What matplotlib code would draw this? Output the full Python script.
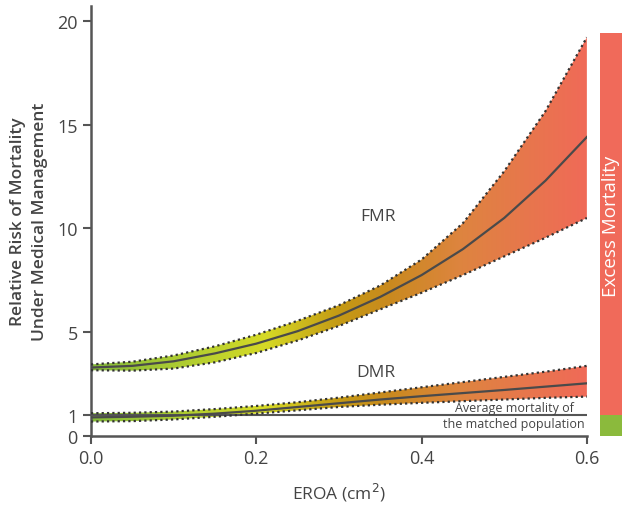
import numpy as np
import matplotlib
matplotlib.use("Agg")
import matplotlib.pyplot as plt
from matplotlib.colors import LinearSegmentedColormap

plt.rcParams['font.family'] = ['Open Sans', 'DejaVu Sans']

# ---- data ----
eroa = [0.0, 0.05, 0.10, 0.15, 0.20, 0.25, 0.30, 0.35, 0.40, 0.45, 0.50, 0.55, 0.60]
fmr_mid = [3.3, 3.38, 3.6, 3.98, 4.45, 5.05, 5.8, 6.7, 7.75, 9.0, 10.5, 12.3, 14.4]
fmr_hi = [3.45, 3.58, 3.88, 4.32, 4.88, 5.55, 6.3, 7.25, 8.5, 10.25, 12.75, 15.65, 19.2]
fmr_lo = [3.17, 3.15, 3.25, 3.55, 4.0, 4.6, 5.3, 6.1, 6.9, 7.75, 8.65, 9.55, 10.5]
dmr_mid = [0.9, 0.93, 0.98, 1.08, 1.22, 1.4, 1.58, 1.76, 1.92, 2.07, 2.22, 2.38, 2.54]
dmr_hi = [1.1, 1.12, 1.18, 1.3, 1.45, 1.63, 1.85, 2.1, 2.35, 2.6, 2.85, 3.1, 3.38]
dmr_lo = [0.7, 0.72, 0.8, 0.93, 1.08, 1.24, 1.4, 1.51, 1.6, 1.68, 1.76, 1.84, 1.9]
avg_level = 1.0
excess_top = 19.4
yticks = [0, 1, 5, 10, 15, 20]
xticks = [0.0, 0.2, 0.4, 0.6]

TXT = '#444444'
AX = '#555555'

cmap = LinearSegmentedColormap.from_list('g', [
    (0.0, '#84BA3A'), (0.2, '#B2CE30'), (0.35, '#D6DA26'),
    (0.5, '#C49A14'), (0.6, '#C98A1E'), (0.75, '#DE8440'), (1.0, '#F06A58')])

fig = plt.figure(figsize=(6.23, 5.10), dpi=100)
ax = fig.add_axes([0.146, 0.143, 0.796, 0.843])
ax.set_xlim(0, 0.6)
ax.set_ylim(0, 20.7)

grad = np.linspace(0, 1, 256).reshape(1, -1)
for lo, mid, hi in [(fmr_lo, fmr_mid, fmr_hi), (dmr_lo, dmr_mid, dmr_hi)]:
    poly = ax.fill_between(eroa, lo, hi, facecolor='none', edgecolor='none')
    im = ax.imshow(grad, cmap=cmap, aspect='auto', extent=(0, 0.6, 0, 20.7),
                   origin='lower', zorder=1, interpolation='bicubic')
    im.set_clip_path(poly.get_paths()[0], transform=ax.transData)
    ax.plot(eroa, hi, color='#333333', lw=1.6, ls=(0, (1, 1.4)), zorder=3)
    ax.plot(eroa, lo, color='#333333', lw=1.6, ls=(0, (1, 1.4)), zorder=3)
    ax.plot(eroa, mid, color='#4a4a4a', lw=1.6, zorder=4)

ax.plot([0, 0.6], [avg_level, avg_level], color=AX, lw=1.5, zorder=2)

ax.text(0.347, 10.6, 'FMR', fontsize=12.5, color=TXT, ha='center', va='center')
ax.text(0.345, 3.1, 'DMR', fontsize=12.5, color=TXT, ha='center', va='center')
ax.text(0.512, 1.0, 'Average mortality of\nthe matched population', fontsize=9,
        color=TXT, ha='center', va='center', multialignment='center', linespacing=1.25)

# excess mortality bar
bx0, bx1 = 0.6157, 0.6424
ax.fill_between([bx0, bx1], [avg_level] * 2, [excess_top] * 2, color='#F06A5A',
                lw=0, clip_on=False)
ax.fill_between([bx0, bx1], [0] * 2, [avg_level] * 2, color='#8BBA3C',
                lw=0, clip_on=False)
ax.text((bx0 + bx1) / 2, 10.15, 'Excess Mortality', rotation=90, color='white',
        fontsize=13.5, ha='center', va='center', clip_on=False)

for s in ['top', 'right']:
    ax.spines[s].set_visible(False)
for s in ['left', 'bottom']:
    ax.spines[s].set_color(AX)
    ax.spines[s].set_linewidth(1.8)
ax.set_yticks(yticks)
ax.set_xticks(xticks)
ax.set_xticklabels([f'{v:.1f}' for v in xticks])
ax.tick_params(colors=AX, labelcolor=TXT, labelsize=13, width=1.5, length=6)
ax.set_xlabel('EROA (cm$^2$)', fontsize=12.5, color=TXT, labelpad=10)
ax.set_ylabel('Relative Risk of Mortality\nUnder Medical Management', fontsize=12.5,
              color=TXT, labelpad=7, fontweight='semibold', linespacing=1.45)

fig.savefig('out.png', dpi=100)
